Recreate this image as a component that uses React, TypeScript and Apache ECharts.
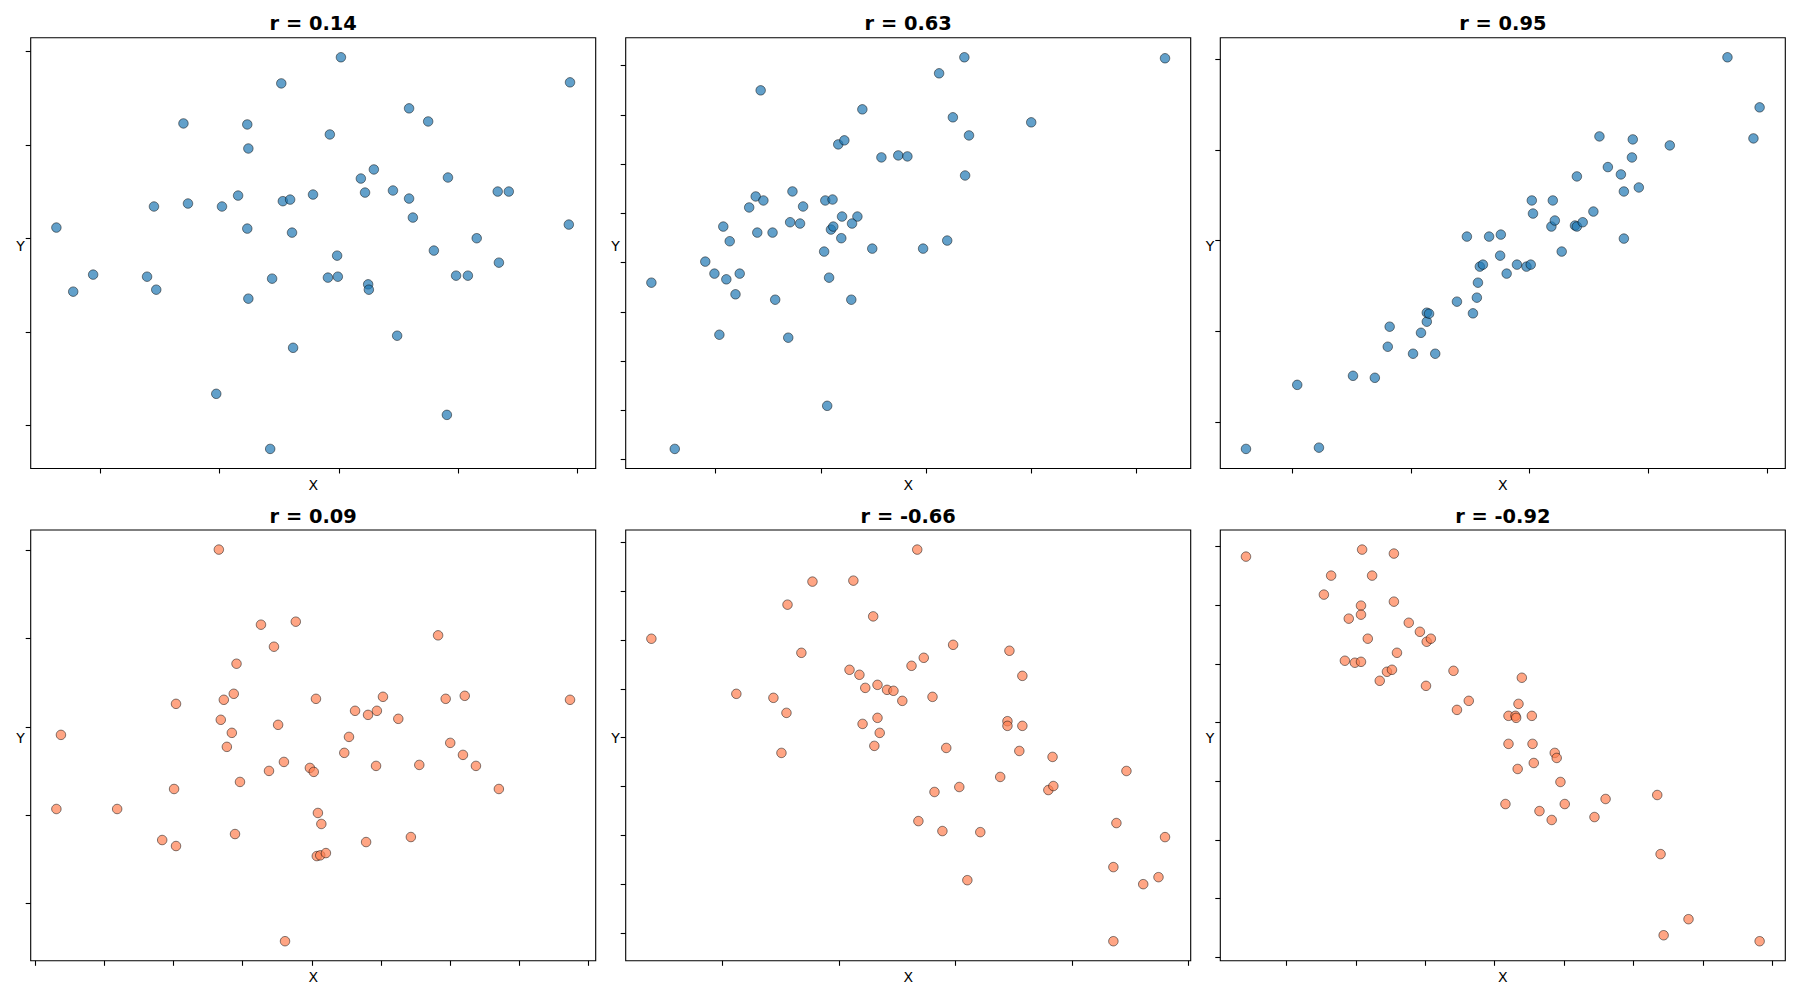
import React, { useEffect, useRef } from "react";
import * as echarts from "echarts";

// ---------- data ----------
const panelTitles = ["r = 0.14", "r = 0.63", "r = 0.95", "r = 0.09", "r = -0.66", "r = -0.92"];

const p1X = [0.016, -0.484, 1.936, 0.587, 0.747, -1.304, -0.769, -0.077, -0.76, 0.292, 0.183, 0.913, -0.846, -0.471, -0.41, -0.218, 0.218, 0.452, 0.587, 1.33, 1.423, -1.551, -1.266, -0.981, 0.619, -2.369, -0.769, -0.394, 1.926, 1.154, 0.795, -0.016, -2.061, -1.609, -0.561, -0.093, -0.01, 0.981, 1.08, 1.34, -2.228, -1.532, -0.76, 0.244, 0.25, 0.487, -0.385, -1.029, 0.904, -0.577];
const p1Y = [1.938, 1.659, 1.67, 1.392, 1.252, 1.231, 1.22, 1.113, 0.963, 0.739, 0.642, 0.653, 0.46, 0.4, 0.417, 0.471, 0.492, 0.514, 0.428, 0.503, 0.503, 0.343, 0.375, 0.343, 0.225, 0.118, 0.107, 0.064, 0.15, 0.004, -0.128, -0.182, -0.385, -0.407, -0.428, -0.417, -0.407, -0.396, -0.396, -0.257, -0.567, -0.546, -0.642, -0.489, -0.546, -1.038, -1.167, -1.659, -1.884, -2.248];

const p2X = [-2.61, -2.388, -2.098, -2.011, -1.898, -1.771, -1.811, -1.964, -1.927, -1.866, -1.572, -1.681, -1.619, -1.546, -1.604, -1.459, -1.434, -1.31, -1.27, -1.169, -1.292, -1.198, -0.958, -0.889, -0.969, -0.922, -0.94, -0.904, -0.882, -0.799, -0.653, -0.704, -0.806, -0.711, -0.512, -0.835, -0.777, -0.606, -0.425, -0.265, -0.178, -0.029, 0.123, 0.2, 0.254, 0.363, 0.407, 0.37, 0.998, 2.269];
const p2Y = [-0.204, -1.893, 0.01, -0.112, -0.17, -0.112, -0.322, -0.733, 0.366, 0.217, 1.75, 0.56, 0.672, 0.631, 0.305, 0.305, -0.377, -0.763, 0.723, 0.57, 0.41, 0.397, 0.631, 0.641, 0.112, -0.153, -1.455, 0.336, 0.366, 0.468, 0.468, 0.397, 0.248, -0.377, 0.142, 1.201, 1.242, 1.557, 1.069, 1.089, 1.079, 0.142, 1.923, 0.224, 1.476, 2.086, 1.292, 0.885, 1.425, 2.076];

const p3X = [-2.39, -1.775, -1.958, -1.488, -1.304, -1.195, -1.179, -0.982, -0.795, -0.915, -0.866, -0.866, -0.847, -0.612, -0.477, -0.444, -0.435, -0.419, -0.393, -0.248, -0.193, -0.106, -0.026, 0.01, -0.528, -0.341, -0.242, 0.019, 0.029, 0.196, 0.184, 0.213, 0.271, 0.383, 0.399, 0.448, 0.538, 0.399, 0.589, 0.66, 0.77, 0.795, 0.921, 0.863, 0.87, 0.795, 1.182, 1.668, 1.887, 1.939];
const p3Y = [-2.296, -2.282, -1.59, -1.49, -1.512, -1.17, -0.949, -1.247, -1.247, -1.016, -0.894, -0.795, -0.806, -0.673, -0.802, -0.629, -0.464, -0.287, -0.265, -0.166, -0.364, -0.265, -0.287, -0.265, 0.044, 0.044, 0.066, 0.442, 0.298, 0.442, 0.155, 0.221, -0.121, 0.166, 0.155, 0.202, 0.32, 0.707, 1.148, 0.81, 0.729, 0.541, 0.585, 0.916, 1.115, 0.022, 1.049, 2.02, 1.126, 1.468];

const p4X = [-0.673, -0.368, -0.116, -0.274, 0.914, -0.545, -0.565, -0.637, -0.983, 0.03, 0.515, 0.969, 1.107, 1.869, 0.313, 0.407, 0.471, 0.626, -0.659, -0.244, -1.816, -0.579, -0.615, 0.269, 0.235, 1.002, 1.094, 1.188, 0.465, 0.778, -0.202, -0.31, -0.014, 0.014, -0.52, -0.997, 1.354, -1.849, -1.409, 0.044, 0.069, -0.556, -1.083, -0.983, 0.393, 0.717, 0.036, 0.061, 0.102, -0.194];
const p4Y = [2.011, 1.159, 1.193, 0.909, 1.038, 0.716, 0.375, 0.307, 0.261, 0.318, 0.341, 0.318, 0.352, 0.307, 0.182, 0.136, 0.182, 0.091, 0.08, 0.023, -0.091, -0.068, -0.227, -0.114, -0.295, -0.182, -0.318, -0.443, -0.443, -0.432, -0.398, -0.5, -0.466, -0.511, -0.625, -0.705, -0.705, -0.932, -0.932, -0.977, -1.102, -1.216, -1.284, -1.352, -1.307, -1.25, -1.466, -1.458, -1.432, -2.432];

const p5X = [-2.609, -1.88, -1.562, -1.45, -1.493, -1.441, -1.322, -1.227, -0.876, -0.706, -0.909, -0.824, -0.774, -0.669, -0.587, -0.532, -0.456, -0.669, -0.797, -0.65, -0.696, -0.377, -0.272, -0.328, -0.197, -0.02, -0.079, -0.18, 0.033, -0.318, -0.112, 0.213, 0.102, 0.463, 0.574, 0.446, 0.446, 0.574, 0.548, 0.384, 0.833, 0.797, 0.84, 1.467, 1.381, 1.798, 1.355, 1.611, 1.742, 1.355];
const p5Y = [1.012, 0.448, 0.407, 0.253, -0.157, 1.361, 0.868, 1.597, 1.607, 1.241, 0.694, 0.643, 0.509, 0.54, 0.489, 0.479, 0.376, 0.202, 0.14, 0.048, -0.085, 0.735, 0.817, 1.925, 0.417, 0.95, -0.106, -0.557, -0.506, -0.855, -0.957, -0.968, -1.46, 0.889, 0.632, 0.168, 0.12, 0.12, -0.137, -0.403, -0.198, -0.537, -0.496, -0.342, -0.875, -1.019, -1.326, -1.501, -1.429, -2.085];

const p6X = [-1.791, -0.955, -0.726, -1.178, -0.883, -1.23, -0.963, -0.726, -1.051, -0.963, -0.619, -0.539, -0.914, -0.49, -0.46, -0.704, -1.079, -1.007, -0.963, -0.776, -0.74, -0.828, -0.495, -0.297, 0.195, -0.272, -0.187, 0.171, 0.099, 0.149, 0.154, 0.267, 0.099, 0.272, 0.432, 0.446, 0.281, 0.165, 0.473, 0.077, 0.322, 0.504, 0.41, 0.718, 0.798, 1.17, 1.194, 1.395, 1.216, 1.907];
const p6Y = [1.415, 1.475, 1.441, 1.253, 1.253, 1.091, 0.997, 1.031, 0.886, 0.92, 0.851, 0.774, 0.715, 0.689, 0.715, 0.595, 0.527, 0.51, 0.518, 0.433, 0.45, 0.356, 0.313, 0.441, 0.382, 0.108, 0.185, 0.159, 0.057, 0.057, 0.04, 0.057, -0.182, -0.182, -0.259, -0.302, -0.345, -0.396, -0.507, -0.695, -0.755, -0.695, -0.831, -0.806, -0.652, -0.618, -1.122, -1.677, -1.814, -1.865];

// tick positions (labels hidden in the reference)
const p1XTicks = [-2, -1, 0, 1, 2];
const p1YTicks = [-2, -1, 0, 1, 2];
const p2XTicks = [-2, -1, 0, 1, 2];
const p2YTicks = [-2, -1.5, -1, -0.5, 0, 0.5, 1, 1.5, 2];
const p3XTicks = [-2, -1, 0, 1, 2];
const p3YTicks = [-2, -1, 0, 1, 2];
const p4XTicks = [-2, -1.5, -1, -0.5, 0, 0.5, 1, 1.5, 2];
const p4YTicks = [-2, -1, 0, 1, 2];
const p5XTicks = [-2, -1, 0, 1, 2];
const p5YTicks = [-2, -1.5, -1, -0.5, 0, 0.5, 1, 1.5, 2];
const p6XTicks = [-1.5, -1, -0.5, 0, 0.5, 1, 1.5, 2];
const p6YTicks = [-2, -1.5, -1, -0.5, 0, 0.5, 1, 1.5];

const panelXs = [p1X, p2X, p3X, p4X, p5X, p6X];
const panelYs = [p1Y, p2Y, p3Y, p4Y, p5Y, p6Y];
const panelXTicks = [p1XTicks, p2XTicks, p3XTicks, p4XTicks, p5XTicks, p6XTicks];
const panelYTicks = [p1YTicks, p2YTicks, p3YTicks, p4YTicks, p5YTicks, p6YTicks];

// ---------- layout / style ----------
const FONT = "DejaVu Sans";
const COL_LEFT = [30.7, 625.7, 1220.3];
const ROW_TOP = [37.7, 530];
const PANEL_W = 565;
const PANEL_H = 430.8;
const BLUE = "#1f77b4";
const CORAL = "#ff7f50";

function padExtent(v: number[]) {
  const lo = Math.min(...v);
  const hi = Math.max(...v);
  const m = (hi - lo) * 0.05;
  return [lo - m, hi + m];
}

export default function App() {
  const ref = useRef<HTMLDivElement>(null);

  useEffect(() => {
    if (!ref.current) return;
    const chart = echarts.init(ref.current, undefined, { renderer: "svg" });

    const grids: any[] = [];
    const xAxes: any[] = [];
    const yAxes: any[] = [];
    const series: any[] = [];
    const graphics: any[] = [];

    for (let i = 0; i < 6; i++) {
      const row = Math.floor(i / 3);
      const col = i % 3;
      const left = COL_LEFT[col];
      const top = ROW_TOP[row];
      grids.push({
        left,
        top,
        width: PANEL_W,
        height: PANEL_H,
        show: true,
        borderColor: "#000",
        borderWidth: 1.1,
        backgroundColor: "transparent",
        containLabel: false,
      });
      const [xmin, xmax] = padExtent(panelXs[i]);
      const [ymin, ymax] = padExtent(panelYs[i]);
      xAxes.push({
        type: "value",
        gridIndex: i,
        position: "bottom",
        min: xmin,
        max: xmax,
        name: "X",
        nameLocation: "middle",
        nameGap: 9,
        nameTextStyle: { fontFamily: FONT, fontSize: 14, color: "#000" },
        axisLine: { show: false, onZero: false },
        axisTick: {
          show: true,
          length: 5,
          inside: false,
          customValues: panelXTicks[i],
          lineStyle: { color: "#000", width: 1.1 },
        },
        axisLabel: { show: false },
        splitLine: { show: false },
      });
      yAxes.push({
        type: "value",
        gridIndex: i,
        position: "left",
        min: ymin,
        max: ymax,
        name: "Y",
        nameLocation: "middle",
        nameRotate: 0,
        nameGap: 6,
        nameTextStyle: {
          fontFamily: FONT,
          fontSize: 14,
          color: "#000",
          verticalAlign: "bottom",
          align: "right",
        },
        axisLine: { show: false, onZero: false },
        axisTick: {
          show: true,
          length: 5,
          inside: false,
          customValues: panelYTicks[i],
          lineStyle: { color: "#000", width: 1.1 },
        },
        axisLabel: { show: false },
        splitLine: { show: false },
      });
      series.push({
        type: "scatter",
        xAxisIndex: i,
        yAxisIndex: i,
        symbol: "circle",
        symbolSize: 9.5,
        data: panelXs[i].map((x, k) => [x, panelYs[i][k]]),
        itemStyle: {
          color: row === 0 ? BLUE : CORAL,
          opacity: 0.7,
          borderColor: "#000",
          borderWidth: 0.7,
        },
        emphasis: { disabled: true },
      });
      graphics.push({
        type: "text",
        x: left + PANEL_W / 2,
        y: top - 14,
        style: {
          text: panelTitles[i],
          fontFamily: FONT,
          fontSize: 19.4,
          fontWeight: "bold",
          fill: "#000",
          align: "center",
          verticalAlign: "middle",
        },
      });
    }

    chart.setOption({
      animation: false,
      backgroundColor: "#fff",
      grid: grids,
      xAxis: xAxes,
      yAxis: yAxes,
      series,
      graphic: graphics,
    });

    return () => chart.dispose();
  }, []);

  return (
    <div
      ref={ref}
      style={{ position: "absolute", left: 0, top: 0, width: 1800, height: 1000 }}
    />
  );
}
